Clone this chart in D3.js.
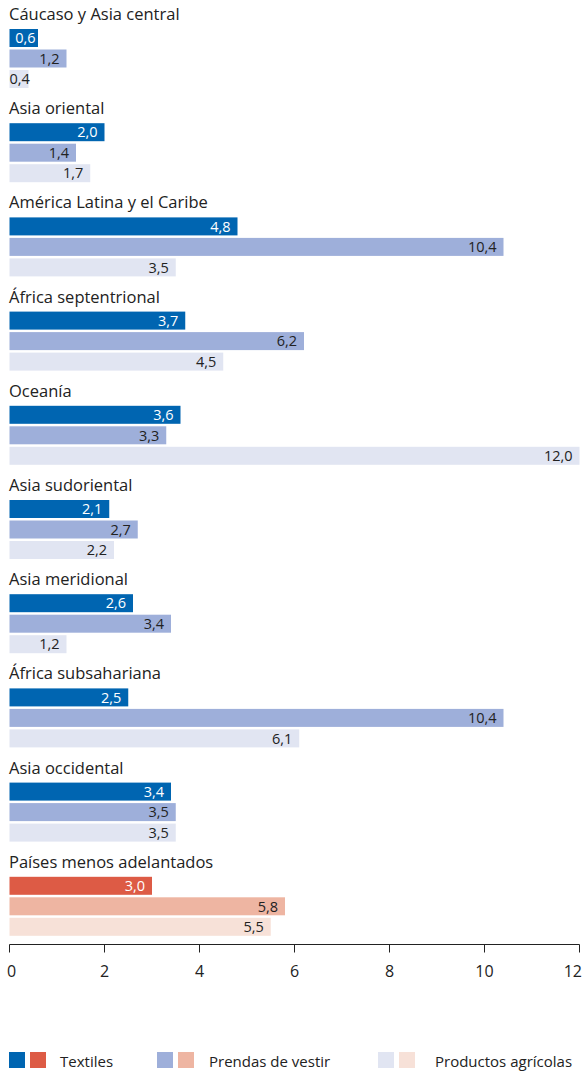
<!DOCTYPE html>
<html>
<head>
<meta charset="utf-8">
<script src="https://cdn.jsdelivr.net/npm/d3@7"></script>
<style>
  html, body { margin: 0; padding: 0; background: #fff; }
  svg { display: block; font-family: "Open Sans", "Noto Sans", sans-serif; font-weight: 400; }
</style>
</head>
<body>
<svg id="chart" width="582" height="1071"></svg>
<script>
// Regions and values per product category
const regions = [
  "Cáucaso y Asia central", "Asia oriental", "América Latina y el Caribe",
  "África septentrional", "Oceanía", "Asia sudoriental", "Asia meridional",
  "África subsahariana", "Asia occidental", "Países menos adelantados"
];
const series = ["Textiles", "Prendas de vestir", "Productos agrícolas"];
const textiles   = [0.6, 2.0, 4.8, 3.7, 3.6, 2.1, 2.6, 2.5, 3.4, 3.0];
const prendas    = [1.2, 1.4, 10.4, 6.2, 3.3, 2.7, 3.4, 10.4, 3.5, 5.8];
const agricolas  = [0.4, 1.7, 3.5, 4.5, 12.0, 2.2, 1.2, 6.1, 3.5, 5.5];
const xTicks = [0, 2, 4, 6, 8, 10, 12];

const blueColors = ["#0065b1", "#9eafda", "#e1e5f2"];
const redColors  = ["#dd5b45", "#eeb5a2", "#f7e1d8"];
const highlight = "Países menos adelantados";

const svg = d3.select("#chart");
const fmt = v => d3.format(".1f")(v).replace(".", ",");

const x = d3.scaleLinear().domain([0, 12]).range([9.5, 579.5]);
const yGroup = d3.scaleBand().domain(regions).range([6, 948]).paddingInner(0);
const yInner = d3.scaleBand().domain(series).range([0, 59]).paddingInner(0.122);

const values = [textiles, prendas, agricolas];

const groups = svg.selectAll("g.region")
  .data(regions)
  .join("g")
  .attr("class", "region")
  .attr("transform", d => `translate(0,${yGroup(d)})`);

groups.append("text")
  .attr("x", 9)
  .attr("y", 14)
  .attr("font-size", 16.5)
  .attr("fill", "#222")
  .text(d => d);

groups.each(function (region, i) {
  const g = d3.select(this).append("g").attr("transform", "translate(0,23)");
  const palette = region === highlight ? redColors : blueColors;
  series.forEach((s, j) => {
    const v = values[j][i];
    const y0 = yInner(s);
    g.append("rect")
      .attr("x", x(0))
      .attr("y", y0)
      .attr("width", x(v) - x(0))
      .attr("height", yInner.bandwidth())
      .attr("fill", palette[j]);
    const short = x(v) - x(0) < 24;
    g.append("text")
      .attr("x", short ? x(0) : Math.max(x(v) - 7, x(0) + 26))
      .attr("y", y0 + yInner.bandwidth() / 2)
      .attr("dy", "0.36em")
      .attr("text-anchor", short ? "start" : "end")
      .attr("font-size", 14.5)
      .attr("fill", j === 0 && !short ? "#ffffff" : "#222")
      .text(fmt(v));
  });
});

// Axis
const axisY = 944.5;
const axis = svg.append("g").attr("transform", `translate(0,${axisY})`);
axis.append("line")
  .attr("x1", x(0)).attr("x2", x(12))
  .attr("stroke", "#222").attr("stroke-width", 1);
axis.selectAll("line.tick")
  .data(xTicks)
  .join("line")
  .attr("class", "tick")
  .attr("x1", d => x(d)).attr("x2", d => x(d))
  .attr("y1", 0).attr("y2", 8)
  .attr("stroke", "#222").attr("stroke-width", 1);
axis.selectAll("text.tick")
  .data(xTicks)
  .join("text")
  .attr("class", "tick")
  .attr("x", (d, i) => i === 0 ? 7 : (i === xTicks.length - 1 ? 582 : x(d)))
  .attr("y", 32.5)
  .attr("text-anchor", (d, i) => i === 0 ? "start" : (i === xTicks.length - 1 ? "end" : "middle"))
  .attr("font-size", 16)
  .attr("fill", "#222")
  .text(d => d);

// Legend
const legendItems = [
  { label: "Textiles", x: 9, tx: 60 },
  { label: "Prendas de vestir", x: 157, tx: 209 },
  { label: "Productos agrícolas", x: 378, tx: 435 }
];
const legend = svg.append("g").attr("transform", "translate(0,1052)");
legendItems.forEach((it, j) => {
  legend.append("rect").attr("x", it.x).attr("y", 0).attr("width", 16).attr("height", 16).attr("fill", blueColors[j]);
  legend.append("rect").attr("x", it.x + 21).attr("y", 0).attr("width", 16).attr("height", 16).attr("fill", redColors[j]);
  legend.append("text")
    .attr("x", it.tx).attr("y", 15)
    .attr("font-size", 15).attr("fill", "#222")
    .text(it.label);
});
</script>
</body>
</html>
